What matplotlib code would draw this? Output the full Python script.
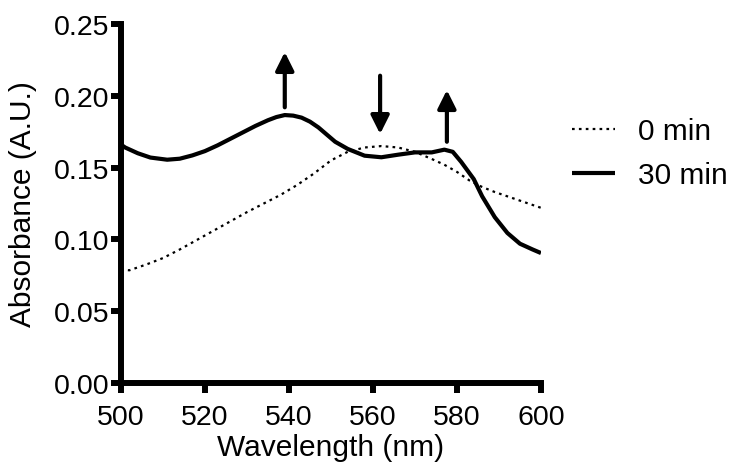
import numpy as np
import matplotlib.pyplot as plt

plt.rcParams['font.family'] = ['Liberation Sans', 'DejaVu Sans']

# spectra
wl_0 = [500, 502, 506, 510, 514, 518, 522, 526, 530, 534, 538, 542, 546, 550, 554, 558, 562, 566, 570, 574, 577, 580, 583, 586, 589, 592, 596, 600]
abs_0 = [0.079, 0.0785, 0.0825, 0.087, 0.093, 0.0995, 0.106, 0.1125, 0.119, 0.125, 0.131, 0.138, 0.146, 0.155, 0.161, 0.164, 0.165, 0.164, 0.161, 0.156, 0.152, 0.147, 0.141, 0.1365, 0.133, 0.130, 0.126, 0.122]

wl_30 = [500, 501, 504, 507, 511, 514, 517, 520, 523, 526, 529, 532, 535, 537, 539, 541, 543, 545, 547, 549, 551, 554, 558, 562, 566, 570, 574, 577, 579, 581, 584, 586, 589, 592, 595, 598, 600]
abs_30 = [0.166, 0.164, 0.160, 0.157, 0.1555, 0.1562, 0.1585, 0.1615, 0.1655, 0.170, 0.1745, 0.179, 0.183, 0.1852, 0.1866, 0.1862, 0.1848, 0.182, 0.178, 0.173, 0.168, 0.163, 0.1583, 0.1572, 0.159, 0.1606, 0.1606, 0.1625, 0.161, 0.154, 0.142, 0.130, 0.1155, 0.1045, 0.097, 0.093, 0.0905]

# arrows: x, y start, y end
arrow_x = [539, 561.7, 577.6]
arrow_y0 = [0.192, 0.214, 0.168]
arrow_y1 = [0.2305, 0.1734, 0.204]

fig = plt.figure(figsize=(7.35, 4.64), dpi=100)
ax = fig.add_axes([0.1646, 0.1724, 0.5714, 0.7737])

ax.plot(wl_0, abs_0, color='black', lw=1.6, ls=(0, (1.2, 1.9)), label='0 min')
ax.plot(wl_30, abs_30, color='black', lw=3, label='30 min', solid_capstyle='butt')

for x, y0, y1 in zip(arrow_x, arrow_y0, arrow_y1):
    ax.annotate('', xy=(x, y1), xytext=(x, y0),
                arrowprops=dict(arrowstyle='-|>,head_length=1.1,head_width=0.55',
                                color='black', lw=3, shrinkA=0, shrinkB=0))

ax.set_xlim(500, 600)
ax.set_ylim(0, 0.25)
ax.set_xticks(np.arange(500, 601, 20))
ax.set_yticks(np.arange(0, 0.26, 0.05))
ax.set_yticklabels(['%.2f' % v for v in np.arange(0, 0.26, 0.05)])

for s in ['top', 'right']:
    ax.spines[s].set_visible(False)
for s in ['left', 'bottom']:
    ax.spines[s].set_linewidth(4.3)
ax.tick_params(width=4.3, length=7, labelsize=20.5, pad=1)
ax.tick_params(axis='x', pad=8)

ax.set_xlabel('Wavelength (nm)', fontsize=21.5)
ax.set_ylabel('Absorbance (A.U.)', fontsize=21.5)
ax.xaxis.set_label_coords(0.5, -0.139)
ax.yaxis.set_label_coords(-0.2, 0.5)

fig.legend(loc='center left', bbox_to_anchor=(0.778, 0.668), frameon=False,
           fontsize=21.5, handlelength=1.45, handletextpad=0.75, labelspacing=0.53,
           borderaxespad=0, borderpad=0)

fig.savefig('out.png', dpi=100)
